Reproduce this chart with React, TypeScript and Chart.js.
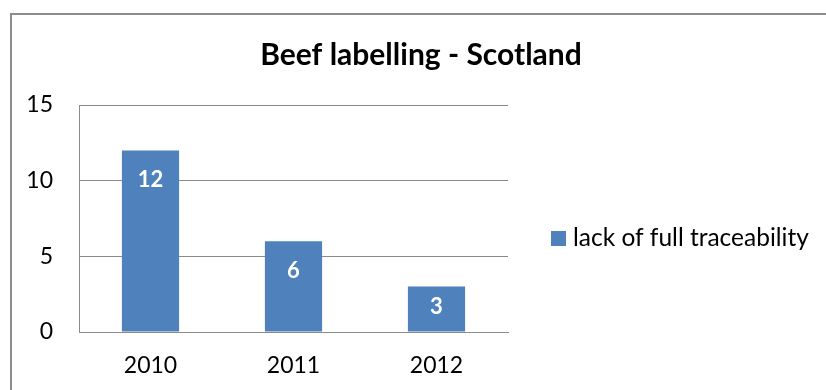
import React, { useEffect, useRef } from 'react';
import { Chart, registerables } from 'chart.js';

Chart.register(...registerables);

const chartTitle = 'Beef labelling - Scotland';
const categories = ['2010', '2011', '2012'];
const seriesName = 'lack of full traceability';
const seriesValues = [12, 6, 3];
const yTicks = [0, 5, 10, 15];

const FONT = 'Lato, "Open Sans", sans-serif';
const BAR_COLOR = '#4F81BD';
const GRID_COLOR = '#8a8a8a';

export default function App() {
  const ref = useRef<HTMLCanvasElement | null>(null);

  useEffect(() => {
    if (!ref.current) return;

    const framePlugin = {
      id: 'frame',
      beforeDraw(c: any) {
        const ctx = c.ctx;
        ctx.save();
        ctx.fillStyle = '#ffffff';
        ctx.fillRect(0, 0, c.width, c.height);
        ctx.strokeStyle = '#8c8c8c';
        ctx.lineWidth = 2;
        ctx.strokeRect(11, 14, 3000, 3000);
        ctx.restore();
      },
    };

    const barLabelPlugin = {
      id: 'barLabels',
      afterDatasetsDraw(c: any) {
        const ctx = c.ctx;
        const meta = c.getDatasetMeta(0);
        ctx.save();
        ctx.fillStyle = '#ffffff';
        ctx.font = `bold 22px ${FONT}`;
        ctx.textAlign = 'center';
        ctx.textBaseline = 'middle';
        meta.data.forEach((el: any, i: number) => {
          const p = el.getProps(['x', 'y', 'base'], true);
          const ty = Math.min(p.y + 30, (p.y + p.base) / 2 - 2);
          ctx.fillText(String(seriesValues[i]), p.x, ty);
        });
        ctx.restore();
      },
    };

    const legendPlugin = {
      id: 'sideLegend',
      afterDraw(c: any) {
        const ctx = c.ctx;
        const a = c.chartArea;
        const cy = (a.top + a.bottom) / 2 + 20;
        const bx = a.right + 43;
        ctx.save();
        ctx.fillStyle = BAR_COLOR;
        ctx.fillRect(bx, cy - 7.5, 15, 15);
        ctx.fillStyle = '#000000';
        ctx.font = `24.5px ${FONT}`;
        ctx.textAlign = 'left';
        ctx.textBaseline = 'middle';
        ctx.fillText(seriesName, bx + 22, cy);
        ctx.restore();
      },
    };

    const chart = new Chart(ref.current, {
      type: 'bar',
      data: {
        labels: categories,
        datasets: [
          {
            label: seriesName,
            data: seriesValues,
            backgroundColor: BAR_COLOR,
            borderWidth: 0,
            barPercentage: 0.4,
            categoryPercentage: 1,
            yAxisID: 'y',
          },
        ],
      },
      options: {
        responsive: false,
        animation: false,
        devicePixelRatio: 1,
        layout: { padding: { left: 16, right: 0, top: 0, bottom: 0 } },
        plugins: {
          legend: { display: false },
          tooltip: { enabled: false },
          title: {
            display: true,
            text: chartTitle,
            color: '#000000',
            font: { family: FONT, size: 30, weight: 'bold', lineHeight: 1.2 },
            padding: { top: 37.5, bottom: 31.5 },
          },
        },
        scales: {
          x: {
            grid: { display: false, drawTicks: false },
            border: { display: true, color: GRID_COLOR, width: 1 },
            ticks: { color: '#000000', font: { family: FONT, size: 23 }, padding: 20 },
            afterFit(s: any) {
              s.height = 58;
            },
          },
          y: {
            min: yTicks[0],
            max: yTicks[yTicks.length - 1],
            grid: { color: GRID_COLOR, lineWidth: 1, drawTicks: false },
            border: { display: true, color: GRID_COLOR, width: 1 },
            ticks: {
              stepSize: yTicks[1] - yTicks[0],
              color: '#000000',
              font: { family: FONT, size: 23 },
              padding: 26,
            },
            afterFit(s: any) {
              s.width = 63;
            },
          },
          yRight: {
            type: 'linear',
            position: 'right',
            display: true,
            grid: { display: false, drawTicks: false },
            border: { display: false },
            ticks: { display: false },
            afterFit(s: any) {
              s.width = 318;
            },
          },
        },
      },
      plugins: [framePlugin, barLabelPlugin, legendPlugin],
    } as any);

    return () => chart.destroy();
  }, []);

  return (
    <div style={{ position: 'absolute', left: 0, top: 0, width: 826, height: 390 }}>
      <canvas ref={ref} width={826} height={390} style={{ display: 'block' }} />
    </div>
  );
}
